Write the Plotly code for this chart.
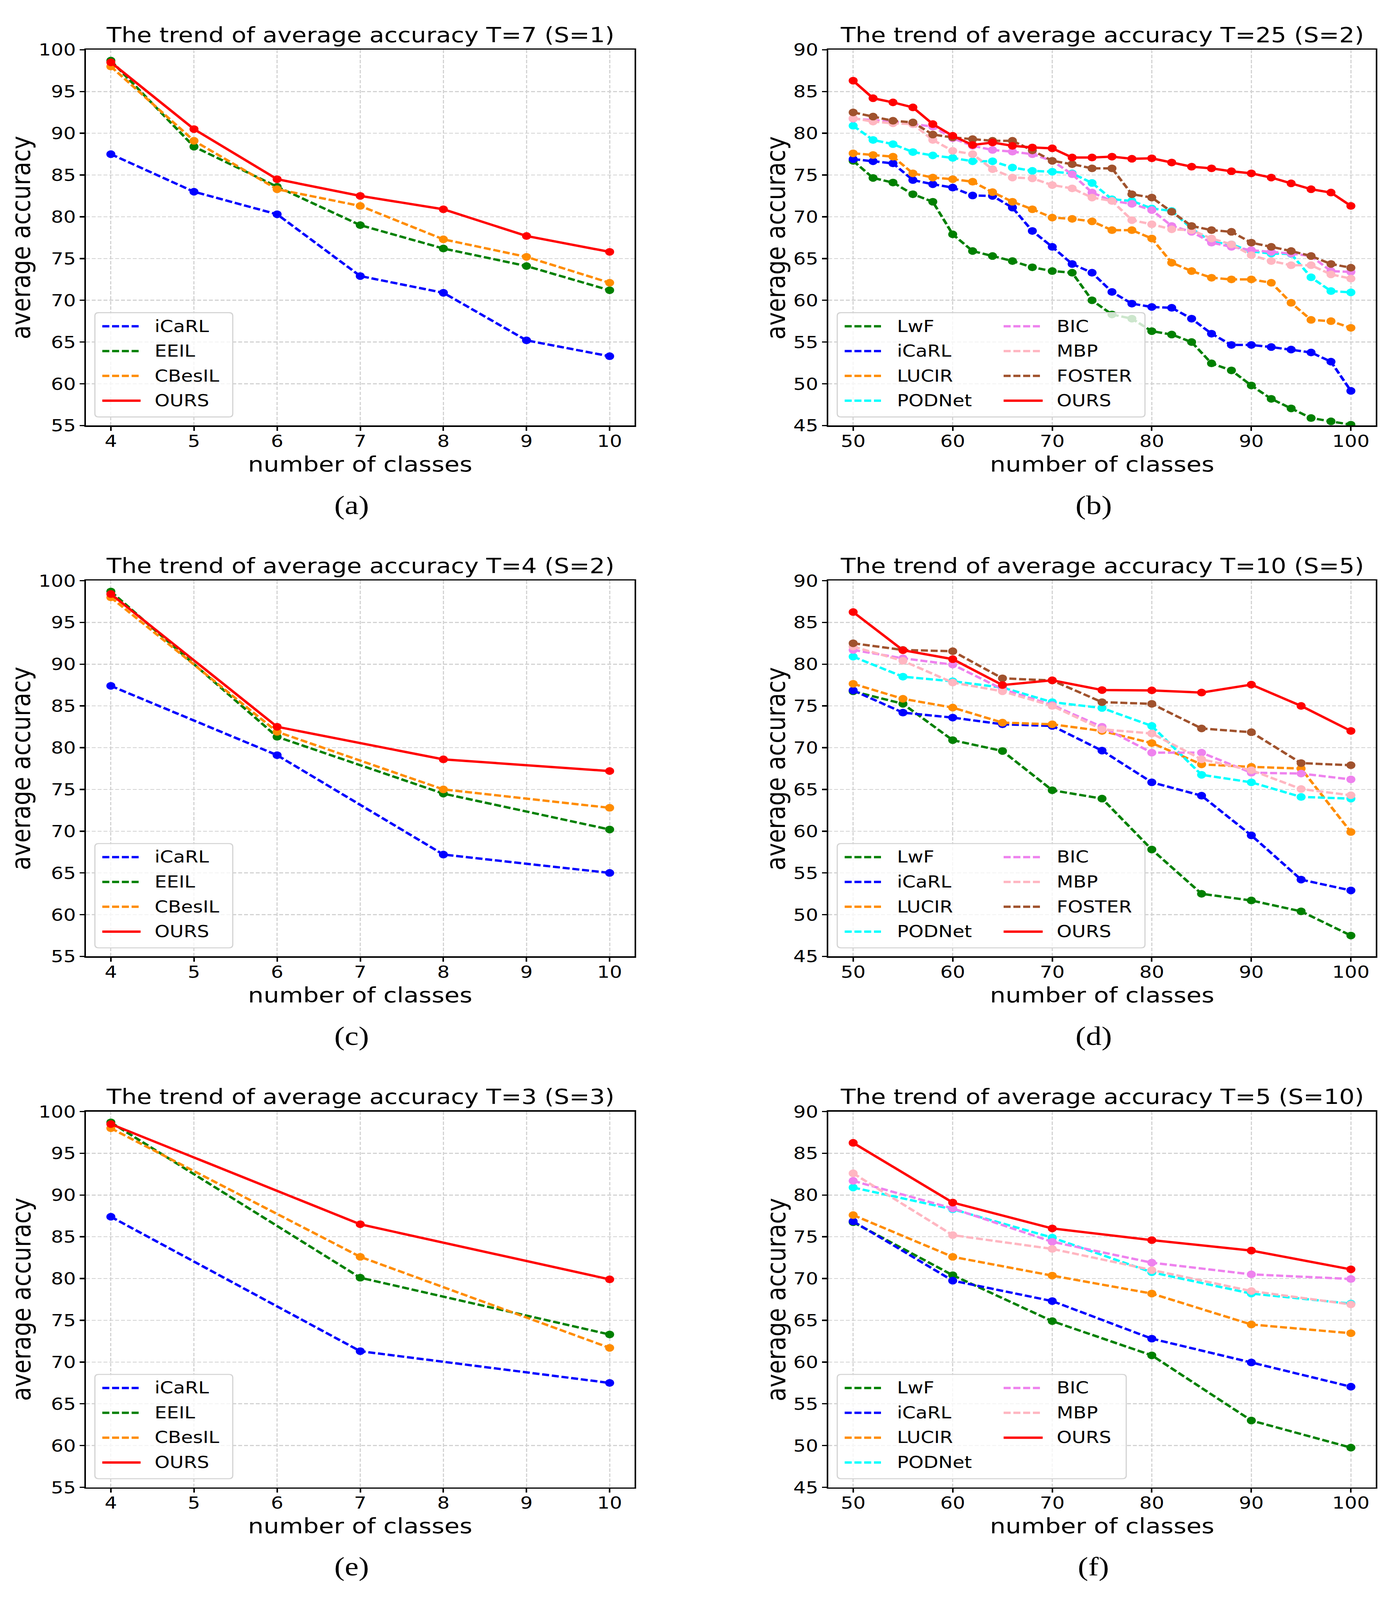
import plotly.graph_objects as go

# ---------------- data ----------------
x_small_a = [4, 5, 6, 7, 8, 9, 10]
a_icarl = [87.5, 83.0, 80.3, 72.9, 70.9, 65.2, 63.3]
a_eeil = [98.7, 88.4, 83.6, 79.0, 76.2, 74.1, 71.2]
a_cbesil = [98.0, 89.1, 83.3, 81.3, 77.3, 75.2, 72.1]
a_ours = [98.5, 90.5, 84.5, 82.5, 80.9, 77.7, 75.8]

x_small_c = [4, 6, 8, 10]
c_icarl = [87.4, 79.1, 67.2, 65.0]
c_eeil = [98.7, 81.3, 74.5, 70.2]
c_cbesil = [98.0, 81.9, 75.0, 72.8]
c_ours = [98.4, 82.5, 78.6, 77.2]

x_small_e = [4, 7, 10]
e_icarl = [87.4, 71.3, 67.5]
e_eeil = [98.7, 80.1, 73.3]
e_cbesil = [98.0, 82.6, 71.7]
e_ours = [98.5, 86.5, 79.9]

x_big_b = [50, 52, 54, 56, 58, 60, 62, 64, 66, 68, 70, 72, 74, 76, 78,
           80, 82, 84, 86, 88, 90, 92, 94, 96, 98, 100]
b_lwf = [76.7, 74.65, 74.1, 72.7, 71.8, 67.9, 65.9, 65.3, 64.7, 63.95, 63.5, 63.3, 60.0,
         58.3, 57.8, 56.3, 55.9, 55.0, 52.45, 51.6, 49.8, 48.2, 47.05, 45.9, 45.5, 45.1]
b_icarl = [76.9, 76.65, 76.4, 74.4, 73.9, 73.5, 72.55, 72.5, 71.1, 68.3, 66.4, 64.35, 63.3,
           61.0, 59.6, 59.2, 59.1, 57.8, 56.0, 54.65, 54.65, 54.4, 54.1, 53.75, 52.65, 49.15]
b_lucir = [77.6, 77.4, 77.2, 75.2, 74.7, 74.5, 74.2, 72.95, 71.8, 70.9, 69.9, 69.75, 69.45,
           68.4, 68.4, 67.4, 64.5, 63.5, 62.7, 62.5, 62.5, 62.1, 59.7, 57.65, 57.5, 56.7]
b_podnet = [80.9, 79.2, 78.7, 77.75, 77.35, 77.05, 76.65, 76.65, 75.9, 75.5, 75.4, 75.2, 74.05,
            72.1, 71.9, 71.0, 70.7, 68.6, 67.0, 66.7, 65.85, 65.6, 65.55, 62.75, 61.1, 60.95]
b_bic = [81.75, 81.6, 81.4, 81.1, 80.8, 79.4, 78.5, 78.0, 77.8, 77.5, 76.7, 75.1, 72.9,
         71.9, 71.55, 70.8, 68.9, 68.2, 66.9, 66.4, 66.0, 65.8, 65.6, 65.3, 63.5, 63.4]
b_mbp = [81.8, 81.4, 81.2, 81.1, 79.2, 77.9, 77.5, 75.7, 74.7, 74.6, 73.8, 73.4, 72.3,
         71.9, 69.6, 69.1, 68.5, 68.4, 67.4, 66.7, 65.4, 64.7, 64.2, 64.2, 63.1, 62.6]
b_foster = [82.5, 82.0, 81.5, 81.3, 79.85, 79.5, 79.3, 79.1, 79.1, 77.95, 76.7, 76.3, 75.8,
            75.8, 72.7, 72.3, 70.6, 68.9, 68.4, 68.2, 66.9, 66.4, 65.9, 65.3, 64.35, 63.9]
b_ours = [86.3, 84.2, 83.7, 83.1, 81.1, 79.7, 78.6, 78.9, 78.5, 78.3, 78.2, 77.1, 77.1,
          77.2, 76.95, 77.0, 76.5, 76.0, 75.8, 75.45, 75.2, 74.7, 74.0, 73.3, 72.9, 71.3]

x_big_d = [50, 55, 60, 65, 70, 75, 80, 85, 90, 95, 100]
d_lwf = [76.75, 75.25, 70.9, 69.6, 64.9, 63.9, 57.8, 52.5, 51.7, 50.4, 47.5]
d_icarl = [76.85, 74.2, 73.6, 72.8, 72.6, 69.65, 65.85, 64.25, 59.5, 54.2, 52.9]
d_lucir = [77.65, 75.85, 74.8, 73.0, 72.8, 72.0, 70.55, 68.0, 67.7, 67.5, 59.9]
d_podnet = [80.9, 78.5, 77.95, 77.2, 75.45, 74.75, 72.6, 66.75, 65.85, 64.1, 63.9]
d_bic = [81.7, 80.7, 79.95, 77.0, 75.1, 72.5, 69.4, 69.4, 67.0, 66.9, 66.2]
d_mbp = [82.1, 80.4, 77.8, 76.75, 75.0, 72.2, 71.7, 68.6, 67.3, 65.05, 64.3]
d_foster = [82.5, 81.7, 81.55, 78.3, 78.05, 75.45, 75.25, 72.3, 71.85, 68.15, 67.9]
d_ours = [86.24, 81.67, 80.6, 77.5, 78.07, 76.9, 76.86, 76.6, 77.55, 75.0, 72.0]

x_big_f = [50, 60, 70, 80, 90, 100]
f_lwf = [76.75, 70.4, 64.9, 60.8, 53.0, 49.75]
f_icarl = [76.85, 69.75, 67.3, 62.8, 59.95, 57.05]
f_lucir = [77.6, 72.6, 70.35, 68.2, 64.5, 63.45]
f_podnet = [80.9, 78.3, 74.9, 70.75, 68.2, 67.0]
f_bic = [81.7, 78.4, 74.4, 71.9, 70.5, 69.95]
f_mbp = [82.6, 75.2, 73.55, 71.0, 68.5, 66.9]
f_ours = [86.25, 79.1, 76.0, 74.6, 73.35, 71.1]

ticks_small_x = [4, 5, 6, 7, 8, 9, 10]
ticks_small_y = [55, 60, 65, 70, 75, 80, 85, 90, 95, 100]
ticks_big_x = [50, 60, 70, 80, 90, 100]
ticks_big_y = [45, 50, 55, 60, 65, 70, 75, 80, 85, 90]

titles = ["The trend of average accuracy T=7 (S=1)",
          "The trend of average accuracy T=25 (S=2)",
          "The trend of average accuracy T=4 (S=2)",
          "The trend of average accuracy T=10 (S=5)",
          "The trend of average accuracy T=3 (S=3)",
          "The trend of average accuracy T=5 (S=10)"]
sublabels = ["(a)", "(b)", "(c)", "(d)", "(e)", "(f)"]
x_title = "number of classes"
y_title = "average accuracy"

# ---------------- styles ----------------
STYLE = {
    'LwF': ('#008000', '18px,7px'),
    'iCaRL': ('#0000ff', '18px,7px'),
    'EEIL': ('#008000', '18px,7px'),
    'CBesIL': ('#ff8c00', '18px,7px'),
    'LUCIR': ('#ff8c00', '18px,7px'),
    'PODNet': ('#00ffff', '18px,7px'),
    'BIC': ('#ee82ee', '18px,7px'),
    'MBP': ('#ffb6c1', '18px,7px'),
    'FOSTER': ('#a0522d', '18px,7px'),
    'OURS': ('#ff0000', 'solid'),
}

panels = [
    dict(xs=x_small_a, series=[('iCaRL', a_icarl), ('EEIL', a_eeil), ('CBesIL', a_cbesil), ('OURS', a_ours)],
         xr=[3.7, 10.3], yr=[55, 100], xt=ticks_small_x, yt=ticks_small_y, cols=[['iCaRL', 'EEIL', 'CBesIL', 'OURS']], boxw=353),
    dict(xs=x_big_b, series=[('LwF', b_lwf), ('iCaRL', b_icarl), ('LUCIR', b_lucir), ('PODNet', b_podnet),
                             ('BIC', b_bic), ('MBP', b_mbp), ('FOSTER', b_foster), ('OURS', b_ours)],
         xr=[47.5, 102.5], yr=[45, 90], xt=ticks_big_x, yt=ticks_big_y,
         cols=[['LwF', 'iCaRL', 'LUCIR', 'PODNet'], ['BIC', 'MBP', 'FOSTER', 'OURS']], boxw=788),
    dict(xs=x_small_c, series=[('iCaRL', c_icarl), ('EEIL', c_eeil), ('CBesIL', c_cbesil), ('OURS', c_ours)],
         xr=[3.7, 10.3], yr=[55, 100], xt=ticks_small_x, yt=ticks_small_y, cols=[['iCaRL', 'EEIL', 'CBesIL', 'OURS']], boxw=353),
    dict(xs=x_big_d, series=[('LwF', d_lwf), ('iCaRL', d_icarl), ('LUCIR', d_lucir), ('PODNet', d_podnet),
                             ('BIC', d_bic), ('MBP', d_mbp), ('FOSTER', d_foster), ('OURS', d_ours)],
         xr=[47.5, 102.5], yr=[45, 90], xt=ticks_big_x, yt=ticks_big_y,
         cols=[['LwF', 'iCaRL', 'LUCIR', 'PODNet'], ['BIC', 'MBP', 'FOSTER', 'OURS']], boxw=788),
    dict(xs=x_small_e, series=[('iCaRL', e_icarl), ('EEIL', e_eeil), ('CBesIL', e_cbesil), ('OURS', e_ours)],
         xr=[3.7, 10.3], yr=[55, 100], xt=ticks_small_x, yt=ticks_small_y, cols=[['iCaRL', 'EEIL', 'CBesIL', 'OURS']], boxw=353),
    dict(xs=x_big_f, series=[('LwF', f_lwf), ('iCaRL', f_icarl), ('LUCIR', f_lucir), ('PODNet', f_podnet),
                             ('BIC', f_bic), ('MBP', f_mbp), ('OURS', f_ours)],
         xr=[47.5, 102.5], yr=[45, 90], xt=ticks_big_x, yt=ticks_big_y,
         cols=[['LwF', 'iCaRL', 'LUCIR', 'PODNet'], ['BIC', 'MBP', 'OURS']], boxw=740),
]

# ---------------- layout geometry (pixels) ----------------
W, H = 3562, 4773
COLS = [(220, 1625), (2121, 3523)]
ROW_TOP = [121, 1724.5, 3328]
AX_H = 1135
FONT = "DejaVu Sans"
LW = 7
MS = 23


def fx(p):
    return p / W


def fy(p):
    return 1 - p / H


fig = go.Figure()
layout = dict(width=W, height=H, margin=dict(l=0, r=0, t=0, b=0, pad=0), autosize=False,
              paper_bgcolor='white', plot_bgcolor='white', showlegend=False)
shapes = []
annotations = []

for i, p in enumerate(panels):
    r, c = divmod(i, 2)
    left, right = COLS[c]
    top = ROW_TOP[r]
    bottom = top + AX_H
    k = '' if i == 0 else str(i + 1)
    axstyle = dict(ticks='outside', ticklen=12, tickwidth=4, tickcolor='black',
                   showline=True, linecolor='black', linewidth=3.5, mirror=True,
                   showgrid=True, gridcolor='#d3d3d3', gridwidth=3, griddash='10px,5px',
                   zeroline=False, tickfont=dict(family=FONT, size=50, color='black'))
    layout['xaxis' + k] = dict(domain=[fx(left), fx(right)], range=p['xr'], tickvals=p['xt'],
                               anchor='y' + k, ticklabelstandoff=-12, **axstyle)
    layout['yaxis' + k] = dict(domain=[fy(bottom), fy(top)], range=p['yr'], tickvals=p['yt'],
                               anchor='x' + k, **axstyle)
    for name, vals in p['series']:
        color, dash = STYLE[name]
        fig.add_trace(go.Scatter(x=p['xs'], y=vals, name=name, mode='lines+markers',
                                 line=dict(color=color, width=LW, dash=dash),
                                 marker=dict(color=color, size=MS),
                                 xaxis='x' + k, yaxis='y' + k, showlegend=False))
    cx = (left + right) / 2
    annotations.append(dict(text=titles[i], x=fx(cx), y=fy(top - 45), xref='paper', yref='paper',
                            xanchor='center', yanchor='middle', showarrow=False,
                            font=dict(family=FONT, size=62, color='black')))
    annotations.append(dict(text=x_title, x=fx(cx), y=fy(bottom + 117), xref='paper', yref='paper',
                            xanchor='center', yanchor='middle', showarrow=False,
                            font=dict(family=FONT, size=63, color='black')))
    yoff = 166 if c == 0 else 134
    annotations.append(dict(text=y_title, x=fx(left - yoff), y=fy((top + bottom) / 2),
                            xref='paper', yref='paper', textangle=-90,
                            xanchor='center', yanchor='middle', showarrow=False,
                            font=dict(family=FONT, size=68, color='black')))
    annotations.append(dict(text=sublabels[i], x=fx(cx - 22), y=fy(bottom + 240), xref='paper', yref='paper',
                            xanchor='center', yanchor='middle', showarrow=False,
                            font=dict(family="Liberation Serif", size=80, color='black')))
    # legend box (rounded, semi-transparent like matplotlib)
    bx0, bx1 = fx(left + 23), fx(left + 23 + p['boxw'])
    by0, by1 = fy(bottom - 26), fy(bottom - 341)
    rx, ry = 10 / W, 10 / H
    path = (f"M {bx0 + rx},{by0} L {bx1 - rx},{by0} Q {bx1},{by0} {bx1},{by0 + ry} "
            f"L {bx1},{by1 - ry} Q {bx1},{by1} {bx1 - rx},{by1} L {bx0 + rx},{by1} "
            f"Q {bx0},{by1} {bx0},{by1 - ry} L {bx0},{by0 + ry} Q {bx0},{by0} {bx0 + rx},{by0} Z")
    shapes.append(dict(type='path', path=path, xref='paper', yref='paper', layer='above',
                       fillcolor='rgba(255,255,255,0.8)', line=dict(color='#d3d3d3', width=3)))
    col_offsets = [(42, 140, 174), (449, 549, 583)]
    for ci, names in enumerate(p['cols']):
        h0, h1, tx = col_offsets[ci]
        for ri, name in enumerate(names):
            yy = bottom - (300 - 75 * ri)
            color, dash = STYLE[name]
            shapes.append(dict(type='line', xref='paper', yref='paper', layer='above',
                               x0=fx(left + h0), x1=fx(left + h1), y0=fy(yy), y1=fy(yy),
                               line=dict(color=color, width=LW, dash=dash)))
            annotations.append(dict(text=name, x=fx(left + tx), y=fy(yy), xref='paper', yref='paper',
                                    xanchor='left', yanchor='middle', showarrow=False,
                                    font=dict(family=FONT, size=49, color='black')))

layout['shapes'] = shapes
layout['annotations'] = annotations
fig.update_layout(**layout)

# The browser viewport may be shorter than the requested page; scale the whole
# figure so that it exactly fills the visible window.
fit_script = """
document.documentElement.style.margin='0';
document.body.style.margin='0';
document.documentElement.style.overflow='hidden';
document.body.style.overflow='hidden';
var gd = document.getElementById('{plot_id}');
function fitFig(){
  var sx = window.innerWidth / %d, sy = window.innerHeight / %d;
  gd.style.transformOrigin = '0 0';
  gd.style.transform = 'scale(' + sx + ',' + sy + ')';
}
fitFig();
window.addEventListener('resize', fitFig);
""" % (W, H)

fig.write_html("out.html", config={'displayModeBar': False, 'responsive': False}, post_script=fit_script)
